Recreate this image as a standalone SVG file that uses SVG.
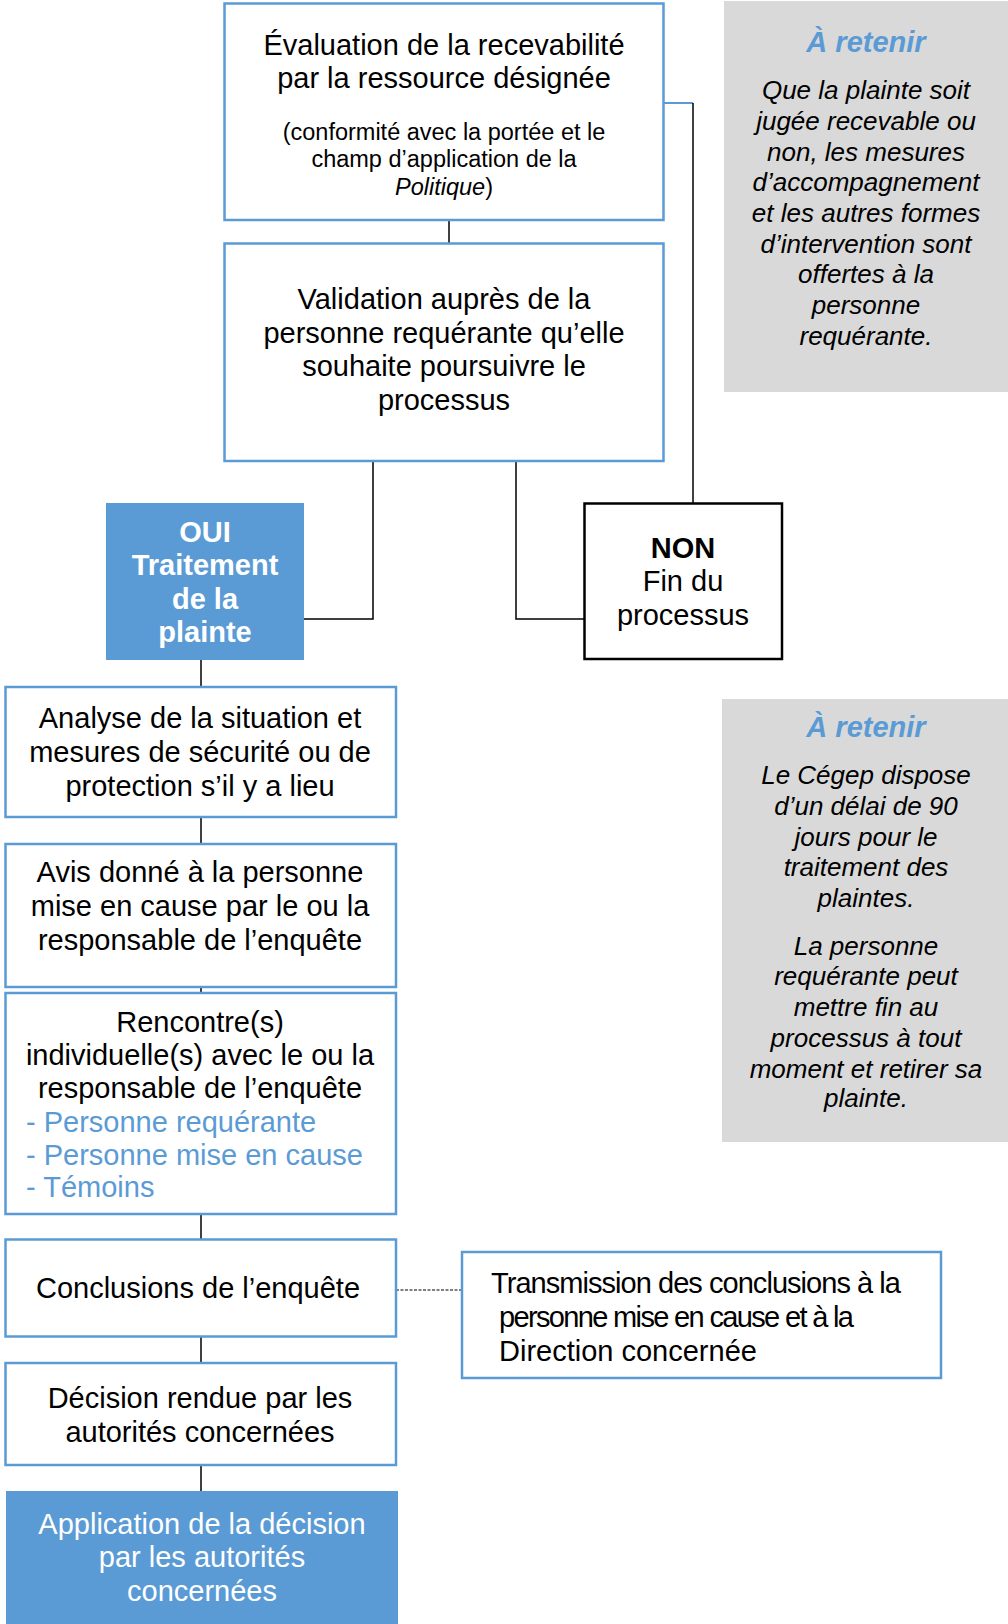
<svg xmlns="http://www.w3.org/2000/svg" width="1008" height="1624" viewBox="0 0 1008 1624">
<style>
.box{fill:#FFFFFF;stroke:#5B9BD5;stroke-width:2.5}
.fill{fill:#5B9BD5;stroke:none}
.non{fill:#FFFFFF;stroke:#000000;stroke-width:2.5}
.note{fill:#D9D9D9;stroke:none}
.t{font-family:"Liberation Sans",Arial,sans-serif;font-size:29px;fill:#000000;text-anchor:middle}
.s{font-family:"Liberation Sans",Arial,sans-serif;font-size:23.5px;fill:#000000;text-anchor:middle}
.w{fill:#FFFFFF}
.b{font-weight:bold}
.l{text-anchor:start}
.blue{fill:#5B9BD5}
.h{font-family:"Liberation Sans",Arial,sans-serif;font-size:29px;font-weight:bold;font-style:italic;fill:#5B9BD5;text-anchor:middle}
.i{font-family:"Liberation Sans",Arial,sans-serif;font-size:26px;font-style:italic;fill:#000000;text-anchor:middle}
.c{fill:none;stroke:#000000;stroke-width:1.5}
</style>
<g id="connectors">
<line class="c" x1="449" y1="220" x2="449" y2="243"/>
<line x1="664" y1="103" x2="693" y2="103" stroke="#5B9BD5" stroke-width="2"/>
<line class="c" x1="693" y1="103" x2="693" y2="503"/>
<polyline class="c" points="373,461 373,619 294,619"/>
<polyline class="c" points="516,461 516,619 584,619"/>
<line class="c" x1="201" y1="660" x2="201" y2="687"/>
<line class="c" x1="201" y1="817" x2="201" y2="844"/>
<line class="c" x1="201" y1="968" x2="201" y2="993"/>
<line class="c" x1="201" y1="1214" x2="201" y2="1239"/>
<line x1="396" y1="1290" x2="462" y2="1290" stroke="#555555" stroke-width="1.5" stroke-dasharray="3,1.5"/>
<line class="c" x1="201" y1="1337" x2="201" y2="1363"/>
<line class="c" x1="201" y1="1465" x2="201" y2="1491"/>
</g>
<g id="evaluation">
<rect class="box" x="224.5" y="3.5" width="439" height="216.5"/>
<text class="t" x="444" y="55">Évaluation de la recevabilité</text>
<text class="t" x="444" y="88">par la ressource désignée</text>
<text class="s" x="444" y="140">(conformité avec la portée et le</text>
<text class="s" x="444" y="167">champ d’application de la</text>
<text class="s" x="444" y="195"><tspan font-style="italic">Politique</tspan>)</text>
</g>
<g id="validation">
<rect class="box" x="224.5" y="243.5" width="439" height="217.5"/>
<text class="t" x="444" y="309">Validation auprès de la</text>
<text class="t" x="444" y="343">personne requérante qu’elle</text>
<text class="t" x="444" y="376">souhaite poursuivre le</text>
<text class="t" x="444" y="410">processus</text>
</g>
<g id="oui">
<rect class="fill" x="106" y="503" width="198" height="157"/>
<text class="t w b" x="205" y="542">OUI</text>
<text class="t w b" x="205" y="575">Traitement</text>
<text class="t w b" x="205" y="609">de la</text>
<text class="t w b" x="205" y="642">plainte</text>
</g>
<g id="non">
<rect class="non" x="584.5" y="503.5" width="197.5" height="155.5"/>
<text class="t b" x="683" y="558">NON</text>
<text class="t" x="683" y="591">Fin du</text>
<text class="t" x="683" y="625">processus</text>
</g>
<g id="note1">
<rect class="note" x="724" y="1" width="284" height="391"/>
<text class="h" x="866" y="52">À retenir</text>
<text class="i" x="866" y="99">Que la plainte soit</text>
<text class="i" x="866" y="130">jugée recevable ou</text>
<text class="i" x="866" y="161">non, les mesures</text>
<text class="i" x="866" y="191">d’accompagnement</text>
<text class="i" x="866" y="222">et les autres formes</text>
<text class="i" x="866" y="253">d’intervention sont</text>
<text class="i" x="866" y="283">offertes à la</text>
<text class="i" x="866" y="314">personne</text>
<text class="i" x="866" y="345">requérante.</text>
</g>
<g id="analyse">
<rect class="box" x="5.5" y="687" width="390.5" height="130"/>
<text class="t" x="200" y="728">Analyse de la situation et</text>
<text class="t" x="200" y="762">mesures de sécurité ou de</text>
<text class="t" x="200" y="796">protection s’il y a lieu</text>
</g>
<g id="avis">
<rect class="box" x="5.5" y="844" width="390.5" height="143"/>
<text class="t" x="200" y="882">Avis donné à la personne</text>
<text class="t" x="200" y="916">mise en cause par le ou la</text>
<text class="t" x="200" y="950">responsable de l’enquête</text>
</g>
<g id="rencontre">
<rect class="box" x="5.5" y="993" width="390.5" height="221"/>
<text class="t" x="200" y="1032">Rencontre(s)</text>
<text class="t" x="200" y="1065">individuelle(s) avec le ou la</text>
<text class="t" x="200" y="1098">responsable de l’enquête</text>
<text class="t l blue" x="26" y="1132">- Personne requérante</text>
<text class="t l blue" x="26" y="1165">- Personne mise en cause</text>
<text class="t l blue" x="26" y="1197">- Témoins</text>
</g>
<g id="note2">
<rect class="note" x="722" y="699" width="286" height="443"/>
<text class="h" x="866" y="737">À retenir</text>
<text class="i" x="866" y="784">Le Cégep dispose</text>
<text class="i" x="866" y="815">d’un délai de 90</text>
<text class="i" x="866" y="846">jours pour le</text>
<text class="i" x="866" y="876">traitement des</text>
<text class="i" x="866" y="907">plaintes.</text>
<text class="i" x="866" y="955">La personne</text>
<text class="i" x="866" y="985">requérante peut</text>
<text class="i" x="866" y="1016">mettre fin au</text>
<text class="i" x="866" y="1047">processus à tout</text>
<text class="i" x="866" y="1078">moment et retirer sa</text>
<text class="i" x="866" y="1107">plainte.</text>
</g>
<g id="conclusions">
<rect class="box" x="5.5" y="1239.5" width="390.5" height="97"/>
<text class="t" x="198" y="1298">Conclusions de l’enquête</text>
</g>
<g id="transmission">
<rect class="box" x="462" y="1252" width="479" height="126"/>
<text class="t l" x="491" y="1293" textLength="410" lengthAdjust="spacing">Transmission des conclusions à la</text>
<text class="t l" x="499" y="1327" textLength="355" lengthAdjust="spacing">personne mise en cause et à la</text>
<text class="t l" x="499" y="1361">Direction concernée</text>
</g>
<g id="decision">
<rect class="box" x="5.5" y="1363" width="390.5" height="102"/>
<text class="t" x="200" y="1408">Décision rendue par les</text>
<text class="t" x="200" y="1442">autorités concernées</text>
</g>
<g id="application">
<rect class="fill" x="6" y="1491" width="392" height="133"/>
<text class="t w" x="202" y="1534">Application de la décision</text>
<text class="t w" x="202" y="1567">par les autorités</text>
<text class="t w" x="202" y="1601">concernées</text>
</g>
</svg>
